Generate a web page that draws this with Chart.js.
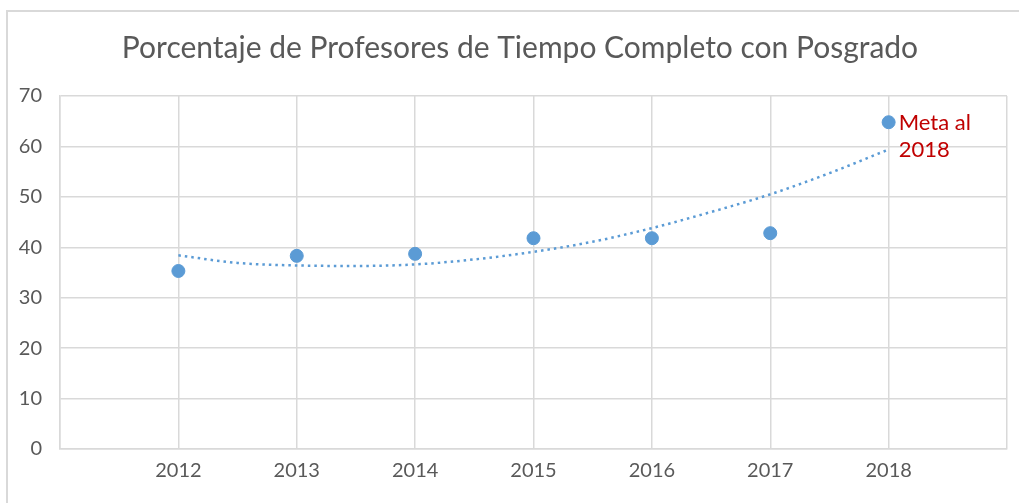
<!DOCTYPE html>
<html>
<head>
<meta charset="utf-8">
<script src="https://cdn.jsdelivr.net/npm/chart.js@4.4.0/dist/chart.umd.min.js"></script>
<style>
  html, body { margin: 0; padding: 0; background: #fff; }
  #wrap { position: relative; width: 1019px; height: 503px; }
  #frame { position: absolute; left: 6px; top: 10px; width: 1030px; height: 520px;
           border-left: 2px solid #d9d9d9; border-top: 2px solid #d9d9d9; pointer-events: none; }
</style>
</head>
<body>
<div id="wrap">
  <canvas id="myChart" width="1019" height="503"></canvas>
  <div id="frame"></div>
</div>
<script>
// datos
var years = [2012, 2013, 2014, 2015, 2016, 2017, 2018];
var pct = [35.3, 38.3, 38.7, 41.8, 41.8, 42.8, 64.8];

// linea de tendencia (punteada), leida cada medio año
var trendYears = [2012, 2012.5, 2013, 2013.5, 2014, 2014.5, 2015, 2015.5, 2016, 2016.5, 2017, 2017.5, 2018];
var trendPct = [38.4, 36.9, 36.4, 36.3, 36.6, 37.6, 39.1, 41.1, 43.8, 47.0, 50.5, 54.7, 59.4];

var yTicks = [0, 10, 20, 30, 40, 50, 60, 70];
var metaLines = ["Meta al", "2018"];

var gray = '#595959';
var blue = '#5b9bd5';

var metaLabel = {
    id: 'metaLabel',
    afterLayout: function(chart) {
        // centrar el titulo como en el original (un poco a la derecha)
        if (chart.titleBlock) chart.titleBlock.left = 33;
    },
    afterDatasetsDraw: function(chart) {
        var c = chart.ctx;
        var x = chart.scales.x.getPixelForValue(years[years.length - 1]) + 10;
        var y = chart.scales.y.getPixelForValue(pct[pct.length - 1]);
        c.save();
        c.fillStyle = '#c00000';
        c.font = '22px Lato';
        c.textAlign = 'left';
        c.textBaseline = 'middle';
        metaLines.forEach(function(t, i) {
            c.fillText(t, x, y + 1 + i * 27);
        });
        c.restore();
    }
};

var ctx = document.getElementById("myChart");

var chart = new Chart(ctx, {
    type: 'scatter',
    data: {
        datasets: [{
            label: 'Porcentaje',
            data: years.map(function(yr, i) { return {x: yr, y: pct[i]}; }),
            backgroundColor: blue,
            borderColor: blue,
            pointRadius: 6.5,
            pointHoverRadius: 6.5,
            order: 1
        }, {
            label: 'Tendencia',
            data: trendYears.map(function(yr, i) { return {x: yr, y: trendPct[i]}; }),
            showLine: true,
            borderColor: blue,
            borderWidth: 2.5,
            borderDash: [2.5, 4],
            cubicInterpolationMode: 'monotone',
            pointRadius: 0,
            pointHoverRadius: 0,
            fill: false,
            order: 2
        }]
    },
    options: {
        responsive: false,
        animation: false,
        layout: { padding: { left: 0, right: 12, top: 0, bottom: 0 } },
        plugins: {
            legend: { display: false },
            tooltip: { enabled: false },
            title: {
                display: true,
                text: 'Porcentaje de Profesores de Tiempo Completo con Posgrado',
                color: gray,
                font: { family: 'Lato', size: 30, weight: 'normal' },
                padding: { top: 30, bottom: 30 }
            }
        },
        scales: {
            x: {
                type: 'linear',
                min: 2011,
                max: 2019,
                grid: { color: '#d9d9d9', lineWidth: 1.5, drawTicks: false },
                border: { color: '#d9d9d9', width: 1.5 },
                ticks: {
                    stepSize: 1,
                    padding: 10,
                    color: gray,
                    font: { family: 'Lato', size: 20 },
                    callback: function(v) { return years.indexOf(v) >= 0 ? String(v) : ''; }
                },
                afterFit: function(s) { s.height = 54; }
            },
            y: {
                min: 0,
                max: 70,
                afterBuildTicks: function(s) { s.ticks = yTicks.map(function(v) { return {value: v}; }); },
                grid: { color: '#d9d9d9', lineWidth: 1.5, drawTicks: false },
                border: { color: '#d9d9d9', width: 1.5 },
                ticks: {
                    padding: 18,
                    color: gray,
                    font: { family: 'Lato', size: 20 }
                },
                afterFit: function(s) { s.width = 60; }
            }
        }
    },
    plugins: [metaLabel]
});
</script>
</body>
</html>
